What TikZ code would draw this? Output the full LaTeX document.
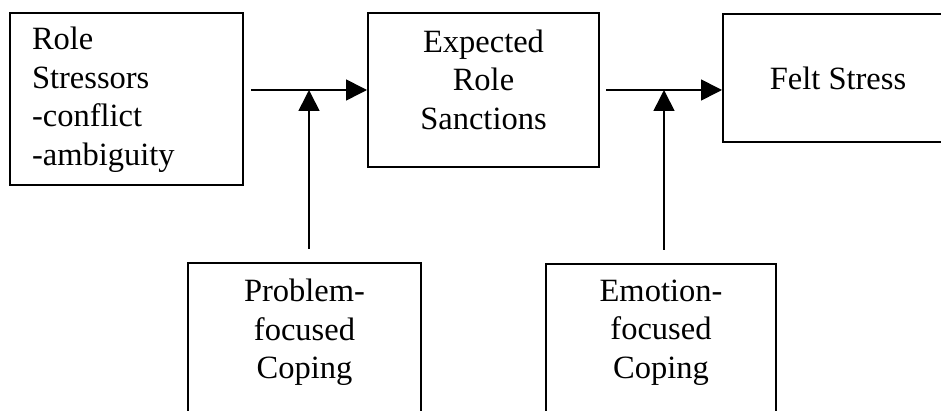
\documentclass[tikz,border=0pt]{standalone}
\usepackage{fontspec}
\setmainfont{Liberation Serif}
\usetikzlibrary{arrows.meta}

\begin{document}
\begin{tikzpicture}[x=1pt, y=-1pt,
    box/.style={draw, line width=2pt, inner sep=0pt, font=\fontsize{32.5}{38.5}\selectfont},
    link/.style={line width=1.6pt, -{Triangle[length=21pt, width=21pt]}}]
        \useasboundingbox (0, 0) rectangle (941, 411);

        \node [box, minimum width=233pt, minimum height=172pt, text width=189pt, align=left] (RS) at (126.5, 99.5) {Role\\Stressors\\-conflict\\-ambiguity};
        \node [box, minimum width=231pt, minimum height=154pt, align=center, text depth=21pt] (ERS) at (483.5, 90) {Expected\\Role\\Sanctions};
        \node [box, minimum width=230pt, minimum height=128pt] (FS) at (838, 78) {Felt Stress};

        \node [box, minimum width=233pt, minimum height=162pt, align=center, text depth=30pt] (PFC) at (304.5, 344) {Problem-\\focused\\Coping};
        \node [box, minimum width=230pt, minimum height=160pt, align=center, text depth=30pt] (EFC) at (661, 344) {Emotion-\\focused\\Coping};

        \coordinate (J1) at (309, 90);
        \coordinate (J2) at (664, 90);

        \draw [link, shorten <=7pt] (RS.east |- J1) -- (ERS.west |- J1);
        \draw [link, shorten <=6pt] (ERS.east |- J2) -- (FS.west |- J2);
        \draw [link, shorten <=13pt] (PFC.north -| J1) -- (J1);
        \draw [link, shorten <=13pt] (EFC.north -| J2) -- (J2);
    \end{tikzpicture}
\end{document}
